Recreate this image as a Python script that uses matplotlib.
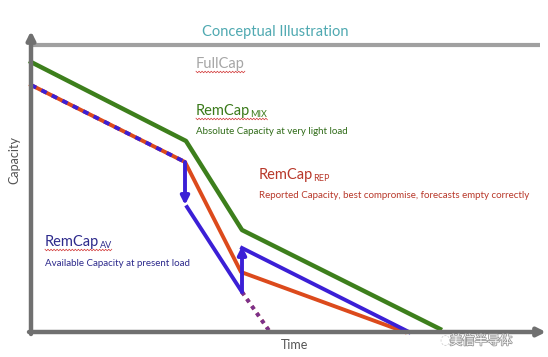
import numpy as np
import matplotlib
matplotlib.use("Agg")
import matplotlib.pyplot as plt
from matplotlib import patheffects

plt.rcParams['font.family'] = ['Lato', 'Noto Sans CJK SC', 'DejaVu Sans']

# conceptual curves (time, capacity), arbitrary units
full_time = [0, 509]
full_cap = [287, 287]

mix_time = [0, 155, 211, 409]
mix_cap = [270, 191, 102, 3]

rep_time = [0, 154, 210, 374]
rep_cap = [247, 170, 60, 0]

# available capacity: shared start, drop, recovery
av_shared_time = [0, 154]
av_shared_cap = [247, 170]
av_mid_time = [156, 211]
av_mid_cap = [125, 40]
av_end_time = [211, 378]
av_end_cap = [84, 0]
av_extrap_time = [211, 239]
av_extrap_cap = [40, 0]

# step arrows (time, cap_from, cap_to)
step_down = (154, 170, 127)
step_up = (211, 40, 86)

GREEN = '#3d7f1c'
RED = '#dc4a1c'
PURPLE = '#3b1fd6'
AXIS = '#707070'

fig = plt.figure(figsize=(5.48, 3.57), dpi=100)
ax = fig.add_axes([0, 0, 1, 1])
ax.set_xlim(-31, 517)
ax.set_ylim(-25, 332)
ax.axis('off')

# axes with arrow heads
ax.annotate('', xy=(0, 301), xytext=(0, -2),
            arrowprops=dict(arrowstyle='-|>', color=AXIS, lw=3.2,
                            mutation_scale=12, shrinkA=0, shrinkB=0))
ax.annotate('', xy=(515, 0), xytext=(-2, 0),
            arrowprops=dict(arrowstyle='-|>', color=AXIS, lw=3.2,
                            mutation_scale=12, shrinkA=0, shrinkB=0))
ax.plot(full_time, full_cap, color='#a0a0a0', lw=3, solid_capstyle='butt')

# curves
ax.plot(mix_time, mix_cap, color=GREEN, lw=3.2, solid_joinstyle='round')
ax.plot(rep_time, rep_cap, color=RED, lw=2.8, solid_joinstyle='round')
ax.plot(av_shared_time, av_shared_cap, color=PURPLE, lw=2.8, dashes=(1.5, 1.5))
ax.plot(av_mid_time, av_mid_cap, color=PURPLE, lw=2.8)
ax.plot(av_end_time, av_end_cap, color=PURPLE, lw=2.8)
ax.plot(av_extrap_time, av_extrap_cap, color=RED, lw=2.8, dashes=(1, 1.2))
ax.plot(av_extrap_time, av_extrap_cap, color=PURPLE, lw=2.8, dashes=(1, 1.2), alpha=0.6)

for t, c0, c1 in (step_down, step_up):
    ax.annotate('', xy=(t, c1), xytext=(t, c0),
                arrowprops=dict(arrowstyle='-|>', color=PURPLE, lw=2.8,
                                mutation_scale=12, shrinkA=0, shrinkB=0))

# texts
ax.text(244, 300, 'Conceptual Illustration', color='#4fa9b1', fontsize=10.5,
        ha='center', va='center')
ax.text(-17, 172, 'Capacity', color='#555555', fontsize=9, rotation=90,
        ha='center', va='center')
ax.text(264, -13, 'Time', color='#555555', fontsize=9, ha='center', va='center')


def label(x, y, main, sub, color, desc, desc_color, wavy):
    t = ax.text(x, y, main, color=color, fontsize=10.5, ha='left', va='baseline')
    s = None
    if sub:
        s = ax.annotate(sub, xy=(1, 0), xycoords=t, xytext=(0.2, 0.8),
                        textcoords='offset points', color=color, fontsize=6.5,
                        ha='left', va='baseline')
    if desc:
        ax.text(x, y - 17, desc, color=desc_color, fontsize=7,
                ha='left', va='center')
    return t, s, wavy


labels = [
    label(165, 264, 'FullCap', '', '#a6a6a6', '', None, True),
    label(165, 217, 'RemCap', 'MIX', '#3a7a1a', 'Absolute Capacity at very light load',
          '#2f6b17', True),
    label(228, 153, 'RemCap', 'REP', '#b8382a', 'Reported Capacity, best compromise, forecasts empty correctly',
          '#b8382a', False),
    label(14, 86, 'RemCap', 'AV', '#2d2a8c', 'Available Capacity at present load',
          '#2d2a8c', True),
]

# red wavy spell-check underlines
fig.canvas.draw()
r = fig.canvas.get_renderer()
inv = ax.transData.inverted()
for t, s, wavy in labels:
    if not wavy:
        continue
    bb = t.get_window_extent(r)
    x1 = bb.x1 if s is None else s.get_window_extent(r).x1
    xs = np.linspace(bb.x0, x1, int((x1 - bb.x0) / 1.5) + 1)
    ys = bb.y0 - 1 + 0.8 * np.where(np.arange(len(xs)) % 2 == 0, 1, -1)
    pts = inv.transform(np.column_stack([xs, ys]))
    ax.plot(pts[:, 0], pts[:, 1], color='#d03030', lw=0.5)

# watermark
ax.text(414, -9, '\u25cc', color='#c8c8c8', fontsize=9, ha='center', va='center',
        family=['DejaVu Sans'])
ax.text(450, -9, '美信半导体', color='white', fontsize=9, ha='center', va='center',
        family=['Noto Sans CJK SC'],
        path_effects=[patheffects.Stroke(linewidth=1.2, foreground='#9a9a9a'),
                      patheffects.Normal()])

fig.savefig('out.png', dpi=100)
